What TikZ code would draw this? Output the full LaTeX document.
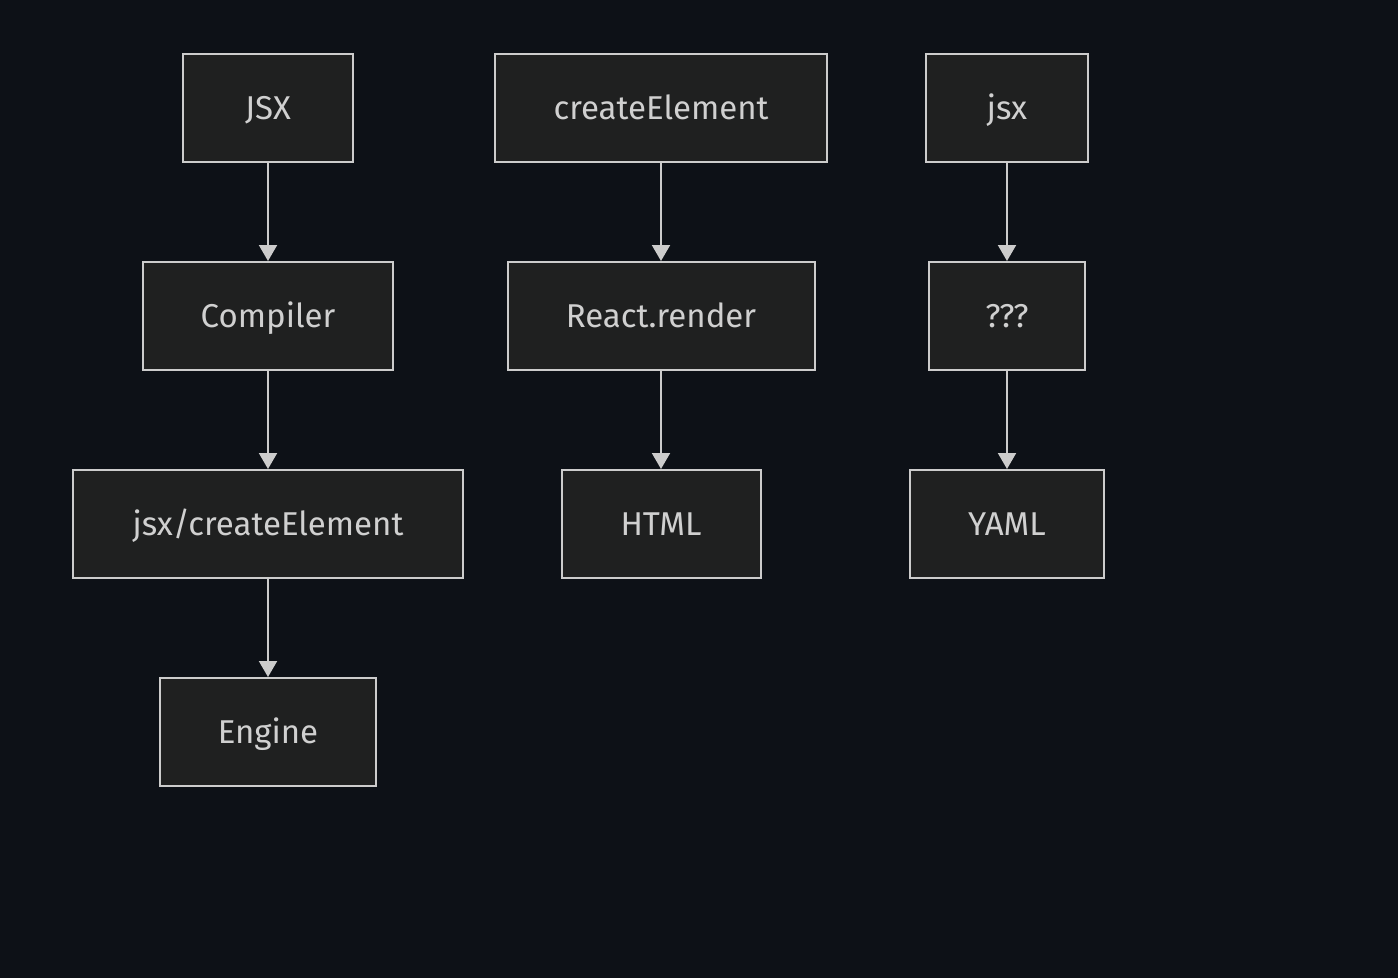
\documentclass[tikz,border=0pt]{standalone}
\usepackage{fontspec}
\setmainfont{Fira Sans}
\usepackage{tikz}
\usetikzlibrary{arrows.meta}
\definecolor{bgdark}{HTML}{0D1117}
\definecolor{boxfill}{HTML}{1F2020}
\definecolor{boxline}{HTML}{CCCCCC}
\definecolor{boxtext}{HTML}{D0D0D0}

\tikzset{
    stepbox/.style={
        draw=boxline,
        fill=boxfill,
        line width=2pt,
        text=boxtext,
        font=\fontsize{33}{38}\selectfont,
        minimum height=108pt,
        text height=23pt,
        text depth=0pt,
        inner sep=0pt
    },
    flow/.style={
        -{Triangle[length=16pt,width=18pt]},
        line width=2pt,
        draw=boxline
    }
}

\begin{document}
\begin{tikzpicture}[x=1pt, y=-1pt]

% ---------------- FONS ----------------
\fill[bgdark] (0,0) rectangle (1398,978);
\useasboundingbox (0,0) rectangle (1398,978);

% ---------------- COLUMNA 1 ----------------
\node[stepbox, minimum width=170pt] (jsxsrc) at (268,108) {JSX};
\node[stepbox, minimum width=250pt] (compiler) at (268,316) {Compiler};
\node[stepbox, minimum width=390pt] (jsxcreate) at (268,524) {jsx/createElement};
\node[stepbox, minimum width=216pt] (engine) at (268,732) {Engine};

\draw[flow] (jsxsrc) -- (compiler);
\draw[flow] (compiler) -- (jsxcreate);
\draw[flow] (jsxcreate) -- (engine);

% ---------------- COLUMNA 2 ----------------
\node[stepbox, minimum width=332pt] (create) at (661,108) {createElement};
\node[stepbox, minimum width=307pt] (render) at (661,316) {React.render};
\node[stepbox, minimum width=199pt] (html) at (661,524) {HTML};

\draw[flow] (create) -- (render);
\draw[flow] (render) -- (html);

% ---------------- COLUMNA 3 ----------------
\node[stepbox, minimum width=162pt] (jsxfn) at (1007,108) {jsx};
\node[stepbox, minimum width=156pt] (unknown) at (1007,316) {???};
\node[stepbox, minimum width=194pt] (yaml) at (1007,524) {YAML};

\draw[flow] (jsxfn) -- (unknown);
\draw[flow] (unknown) -- (yaml);

\end{tikzpicture}
\end{document}
